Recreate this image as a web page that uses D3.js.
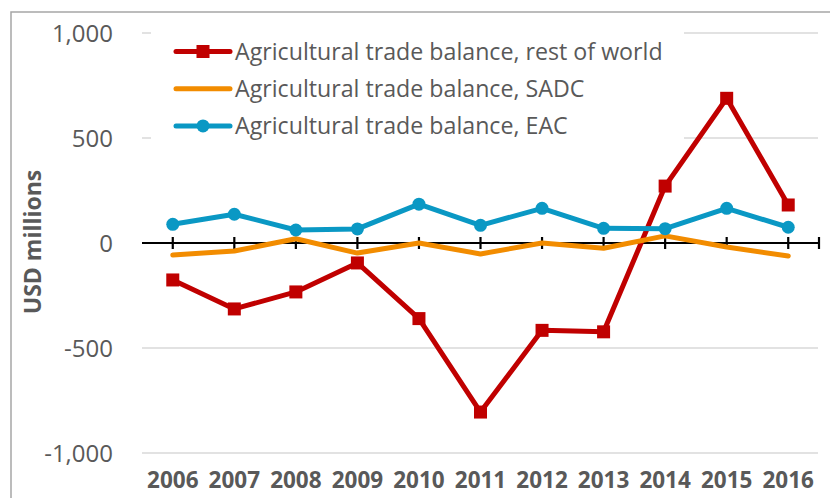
<!doctype html>
<html lang="en">
  <head>
    <meta charset="utf-8">
    <title>Agricultural trade balance</title>
    <script src="https://d3js.org/d3.v7.min.js"></script>
    <style>
      body { margin: 0; background: #fff; }
      text { font-family: "Open Sans", sans-serif; fill: #595959; }
    </style>
  </head>
  <body>
    <svg width="830" height="498"></svg>
    <script>
      // values, USD millions
      var years = ['2006', '2007', '2008', '2009', '2010', '2011', '2012', '2013', '2014', '2015', '2016'];
      var restOfWorld = [-176, -314, -233, -95, -360, -805, -416, -423, 271, 689, 181];
      var sadc = [-57, -38, 20, -48, 0, -52, 0, -25, 34, -19, -62];
      var eac = [89, 137, 62, 67, 185, 84, 165, 70, 68, 165, 75];
      var yTicks = [-1000, -500, 0, 500, 1000];

      var series = [
        { name: 'Agricultural trade balance, rest of world', values: restOfWorld, color: '#c00000', marker: 'square' },
        { name: 'Agricultural trade balance, SADC', values: sadc, color: '#f28c00', marker: 'none' },
        { name: 'Agricultural trade balance, EAC', values: eac, color: '#0a98c4', marker: 'circle' }
      ];

      var svg = d3.select('svg');
      var plotLeft = 142, plotRight = 819, plotTop = 33, plotBottom = 453;

      var x = d3.scaleBand().domain(years).range([plotLeft, plotRight]).padding(0);
      var y = d3.scaleLinear().domain([-1000, 1000]).range([plotBottom, plotTop]);
      var cx = function(d){ return x(d) + x.bandwidth() / 2; };

      // chart border (cut off on the right and bottom)
      svg.append('rect')
        .attr('x', 11).attr('y', 12)
        .attr('width', 900).attr('height', 600)
        .attr('fill', 'none')
        .attr('stroke', '#a6a6a6')
        .attr('stroke-width', 1.5);

      // gridlines
      svg.selectAll('.grid')
        .data(yTicks.filter(function(t){ return t !== 0; }))
        .enter().append('line')
          .attr('class', 'grid')
          .attr('x1', plotLeft).attr('x2', plotRight - 1)
          .attr('y1', function(d){ return y(d); })
          .attr('y2', function(d){ return y(d); })
          .attr('stroke', '#d9d9d9')
          .attr('stroke-width', 1.5);

      // y tick labels
      var fmt = function(v){ return d3.format(',')(v).replace('\u2212', '-'); };
      svg.selectAll('.ylab')
        .data(yTicks)
        .enter().append('text')
          .attr('class', 'ylab')
          .attr('x', 113)
          .attr('y', function(d){ return y(d); })
          .attr('dy', '0.36em')
          .attr('text-anchor', 'end')
          .style('font-size', '24px')
          .text(fmt);

      // y axis title
      svg.append('text')
        .attr('transform', 'translate(41,242) rotate(-90)')
        .attr('text-anchor', 'middle')
        .style('font-size', '23px')
        .style('font-weight', 'bold')
        .text('USD millions');

      // x labels
      svg.selectAll('.xlab')
        .data(years)
        .enter().append('text')
          .attr('class', 'xlab')
          .attr('x', cx)
          .attr('y', 488)
          .attr('text-anchor', 'middle')
          .style('font-size', '22.5px')
          .style('font-weight', 'bold')
          .text(function(d){ return d; });

      // zero axis with tick marks
      svg.append('line')
        .attr('x1', plotLeft).attr('x2', plotRight + 1)
        .attr('y1', y(0)).attr('y2', y(0))
        .attr('stroke', '#000').attr('stroke-width', 2.2);
      var tickX = years.map(cx).concat([plotRight]);
      svg.selectAll('.tick')
        .data(tickX)
        .enter().append('line')
          .attr('x1', function(d){ return d; })
          .attr('x2', function(d){ return d; })
          .attr('y1', y(0) - 6).attr('y2', y(0) + 6)
          .attr('stroke', '#000').attr('stroke-width', 2.2);

      // legend box
      svg.append('rect')
        .attr('x', 151).attr('y', 31)
        .attr('width', 533).attr('height', 118)
        .attr('fill', '#fff');

      var line = d3.line()
        .x(function(d, i){ return cx(years[i]); })
        .y(function(d){ return y(d); });

      function drawMarker(g, type, color, px, py) {
        if (type === 'square') {
          g.append('rect')
            .attr('x', px - 6.5).attr('y', py - 6.5)
            .attr('width', 13).attr('height', 13)
            .attr('fill', color);
        } else if (type === 'circle') {
          g.append('circle')
            .attr('cx', px).attr('cy', py).attr('r', 6.5)
            .attr('fill', color);
        }
      }

      series.forEach(function(s){
        var g = svg.append('g');
        g.append('path')
          .datum(s.values)
          .attr('d', line)
          .attr('fill', 'none')
          .attr('stroke', s.color)
          .attr('stroke-width', 5)
          .attr('stroke-linejoin', 'round')
          .attr('stroke-linecap', 'round');
        s.values.forEach(function(v, i){
          drawMarker(g, s.marker, s.color, cx(years[i]), y(v));
        });
      });

      // legend entries
      series.forEach(function(s, i){
        var ly = 51.5 + i * 37.2;
        var g = svg.append('g');
        g.append('line')
          .attr('x1', 176).attr('x2', 230)
          .attr('y1', ly).attr('y2', ly)
          .attr('stroke', s.color)
          .attr('stroke-width', 5)
          .attr('stroke-linecap', 'round');
        drawMarker(g, s.marker, s.color, 203, ly);
        g.append('text')
          .attr('x', 235)
          .attr('y', ly + 8.5)
          .style('font-size', '23.2px')
          .text(s.name);
      });
    </script>
  </body>
</html>
